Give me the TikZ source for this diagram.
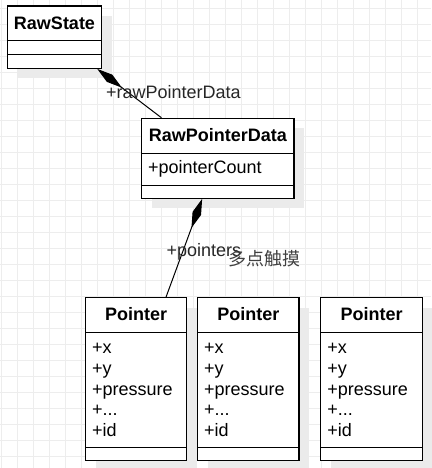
\documentclass[tikz,border=0pt]{standalone}
\usepackage{fontspec}
\setmainfont{Liberation Sans}
\newfontfamily\cjk{Noto Sans CJK SC}
\usetikzlibrary{arrows.meta,shadows,positioning}

\begin{document}
\begin{tikzpicture}[x=1pt,y=-1pt,
  classbox/.style={draw,line width=1.1pt,fill=white,inner sep=0pt,
    drop shadow={shadow xshift=10pt,shadow yshift=-10pt,fill=black!8,opacity=1}},
  divider/.style={line width=1.1pt},
  title/.style={font=\fontsize{18}{21}\selectfont\bfseries,anchor=base,inner sep=0pt},
  attr/.style={font=\fontsize{18}{21}\selectfont,anchor=base west,inner sep=0pt},
  role/.style={font=\fontsize{18}{21}\selectfont,anchor=base west,inner sep=0pt,text=black!85},
  comp/.style={line width=1pt,-{Diamond[length=31pt,width=9pt]}},
  gridline/.style={black!7,line width=0.8pt}]
  \useasboundingbox (0,0) rectangle (431,468);
  % Background grid
  \foreach \gx in {0,...,26} \draw[gridline] (1.3+16*\gx,0) -- (1.3+16*\gx,468);
  \foreach \gy in {0,...,28} \draw[gridline] (0,8+16*\gy) -- (431,8+16*\gy);
  % RawState
  \node[classbox,minimum width=94.4pt,minimum height=62.3pt] (rawstate) at (54.5,37.2) {};
  \node[title] (rawstate-title) at ([yshift=-24pt]rawstate.north) {RawState};
  \draw[divider] ([yshift=-35.3pt]rawstate.north west) -- ([yshift=-35.3pt]rawstate.north east);
  \draw[divider] ([yshift=-49.3pt]rawstate.north west) -- ([yshift=-49.3pt]rawstate.north east);
  % RawPointerData
  \node[classbox,minimum width=152.3pt,minimum height=80pt] (rawpointerdata) at (217.85,158.3) {};
  \node[title] (rawpointerdata-title) at ([yshift=-23.4pt]rawpointerdata.north) {RawPointerData};
  \draw[divider] ([yshift=-35.4pt]rawpointerdata.north west) -- ([yshift=-35.4pt]rawpointerdata.north east);
  \node[attr] (pointercount) at ([xshift=6.8pt,yshift=-55.7pt]rawpointerdata.north west) {+pointerCount};
  \draw[divider] ([yshift=-67.4pt]rawpointerdata.north west) -- ([yshift=-67.4pt]rawpointerdata.north east);
  % Pointers
  \node[classbox,minimum width=101.3pt,minimum height=163pt] (pointera) at (136.2,379.2) {};
  \node[classbox,minimum width=101.3pt,minimum height=163pt] (pointerb) at (248.35,379.2) {};
  \node[classbox,minimum width=101.3pt,minimum height=163pt] (pointerc) at (371.5,379.2) {};
  \foreach \p in {pointera,pointerb,pointerc}{
    \node[title] (\p-title) at ([yshift=-23.3pt]\p.north) {Pointer};
    \draw[divider] ([yshift=-35pt]\p.north west) -- ([yshift=-35pt]\p.north east);
    \node[attr] (\p-x) at ([xshift=6.8pt,yshift=-56.3pt]\p.north west) {+x};
    \node[attr] (\p-y) at ([xshift=6.8pt,yshift=-77.3pt]\p.north west) {+y};
    \node[attr] (\p-pressure) at ([xshift=6.8pt,yshift=-98pt]\p.north west) {+pressure};
    \node[attr] (\p-more) at ([xshift=6.8pt,yshift=-118.8pt]\p.north west) {+...};
    \node[attr] (\p-id) at ([xshift=6.8pt,yshift=-139.6pt]\p.north west) {+id};
    \draw[divider] ([yshift=-150.6pt]\p.north west) -- ([yshift=-150.6pt]\p.north east);
  }
  % Compositions
  \draw[comp] ([xshift=20.3pt]rawpointerdata.north west) -- ([xshift=-5pt]rawstate.south east);
  \node[role] (rawpointerdata-role) at (105.8,99) {+rawPointerData};
  \draw[comp] ([xshift=81pt]pointera.north west) -- ([xshift=61pt]rawpointerdata.south west);
  \node[role] (pointers-role) at (166.5,256.7) {+pointers};
  \node[role,font=\cjk\fontsize{18}{21}\selectfont,text=black!75] (multitouch) at (228.3,265) {多点触摸};
\end{tikzpicture}
\end{document}
